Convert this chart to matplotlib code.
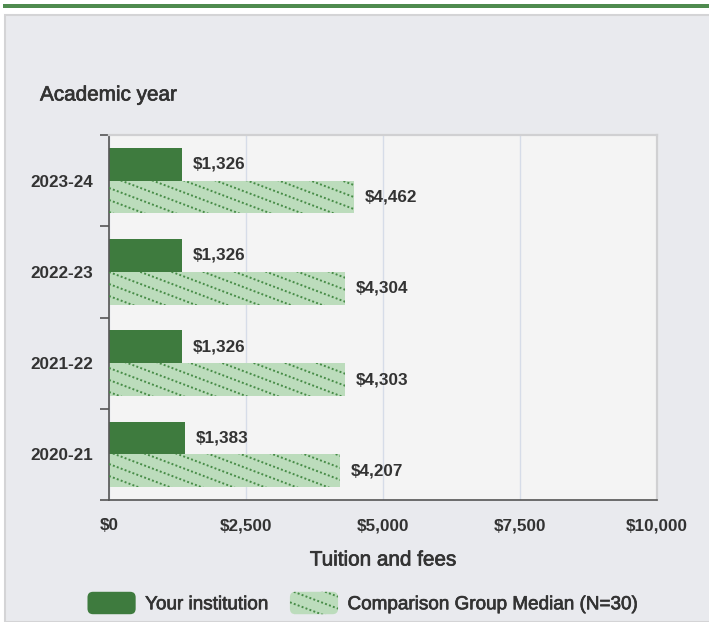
import numpy as np
import matplotlib
matplotlib.use('Agg')
import matplotlib.pyplot as plt
from matplotlib.patches import Rectangle, FancyBboxPatch, Patch
from matplotlib.collections import LineCollection
from matplotlib.legend_handler import HandlerBase
import matplotlib.patheffects as pe

plt.rcParams['font.family'] = ['Liberation Sans', 'DejaVu Sans']

# data
years = ['2023-24', '2022-23', '2021-22', '2020-21']
your_institution = [1326, 1326, 1326, 1383]
comparison_median = [4462, 4304, 4303, 4207]
x_ticks = [0, 2500, 5000, 7500, 10000]
series_names = ['Your institution', 'Comparison Group Median (N=30)']

DARK = '#3e7b3e'
LIGHT = '#bcdcbc'
DOTS = '#478c47'
TXT = '#333333'
DOT_STYLE = (0, (1, 1.15))


def dotted_lines(w, h, slope=0.38, step=12.0):
    # diagonal texture lines, pixel-ish units, normalised to w x h box
    segs = []
    for c in np.arange(0, h + slope * w + step, step):
        segs.append([(0, c / h), (1, (c - slope * w) / h)])
    return segs


class DottedHandler(HandlerBase):
    def __init__(self, dotted):
        super().__init__()
        self.dotted = dotted

    def create_artists(self, legend, orig_handle, xdescent, ydescent,
                       width, height, fontsize, trans):
        box = FancyBboxPatch((-xdescent, -ydescent), width, height,
                             boxstyle='round,pad=0,rounding_size=4',
                             fc=orig_handle.get_facecolor(), ec='none',
                             transform=trans)
        arts = [box]
        if self.dotted:
            segs = []
            for c in np.arange(0, height + 0.38 * width + 8.6, 8.6):
                segs.append([(-xdescent, -ydescent + c),
                             (-xdescent + width, -ydescent + c - 0.38 * width)])
            lc = LineCollection(segs, colors=DOTS, linewidths=1.4,
                                linestyles=DOT_STYLE, transform=trans)
            lc.set_clip_path(box)
            arts.append(lc)
        return arts


fig = plt.figure(figsize=(7.09, 6.22), dpi=100)
fig.patch.set_facecolor('white')

# outer panel and green strip
fig.add_artist(Rectangle((5 / 709, 0), 1, (622 - 15) / 622, transform=fig.transFigure,
                         fc='#e9eaee', ec='#d4d4d6', lw=1.5, zorder=0))
fig.add_artist(Rectangle((3 / 709, 1 - 8 / 622), 1, 4 / 622, transform=fig.transFigure,
                         fc='#4f8b4f', ec='none', zorder=0))

ax = fig.add_axes([109 / 709, 1 - 500 / 622, 548 / 709, 365 / 622])
ax.set_facecolor('#f4f4f4')

pos = np.arange(len(years))
h = 0.36
b1 = ax.barh(pos - h / 2, your_institution, height=h, color=DARK, zorder=2)
b2 = ax.barh(pos + h / 2, comparison_median, height=h, color=LIGHT, zorder=2)

# dotted diagonal texture clipped to each comparison bar
for bar in b2:
    lc = LineCollection(dotted_lines(548, 365), colors=DOTS, linewidths=1.4,
                        linestyles=DOT_STYLE, transform=ax.transAxes, zorder=3)
    ax.add_collection(lc, autolim=False)
    lc.set_clip_path(bar.get_path(), bar.get_transform())

for bars in (b1, b2):
    ax.bar_label(bars, labels=[f'${v:,}' for v in bars.datavalues], padding=8,
                 fontsize=12.3, fontweight='bold', color=TXT)

ax.set_xlim(0, 10000)
ax.set_ylim(3.5, -0.5)
ax.set_xticks(x_ticks)
ax.set_xticklabels([f'${v:,}' for v in x_ticks])
ax.set_yticks(pos)
ax.set_yticklabels(years)
ax.set_yticks(np.arange(-0.5, len(years)), minor=True)
ax.tick_params(axis='x', length=0, pad=13, labelsize=12.3, labelcolor=TXT)
ax.tick_params(axis='y', which='major', length=0, pad=11.5, labelsize=12.3, labelcolor=TXT)
ax.tick_params(axis='y', which='minor', length=6.5, width=1.2, color='#555555')
for lbl in ax.get_xticklabels() + ax.get_yticklabels():
    lbl.set_fontweight('bold')

ax.grid(axis='x', color='#d6dce8', lw=1, zorder=1)
ax.set_axisbelow(True)
for s in ('left', 'bottom'):
    ax.spines[s].set_color('#555555')
    ax.spines[s].set_linewidth(1.2)
for s in ('top', 'right'):
    ax.spines[s].set_color('#d0d0d2')
    ax.spines[s].set_linewidth(1.6)

thick = [pe.withStroke(linewidth=0.5, foreground=TXT)]
ax.set_xlabel('Tuition and fees', fontsize=14.9, color=TXT, path_effects=thick)
ax.xaxis.set_label_coords(0.5, -60 / 365)
ax.xaxis.label.set_va('center')

fig.text(40 / 709, 1 - 95 / 622, 'Academic year', fontsize=14.9, color=TXT,
         va='center', ha='left', path_effects=thick)

handles = [Patch(facecolor=DARK), Patch(facecolor=LIGHT)]
leg = fig.legend(handles, series_names, loc='center', bbox_to_anchor=(362 / 709, 1 - 603 / 622),
                 ncol=2, frameon=False, fontsize=13.6, handlelength=2.55, handleheight=1.45,
                 handletextpad=0.5, columnspacing=1.2, labelcolor=TXT,
                 handler_map={handles[0]: DottedHandler(False), handles[1]: DottedHandler(True)})
for t in leg.get_texts():
    t.set_path_effects(thick)

fig.savefig('out.png', dpi=100)
